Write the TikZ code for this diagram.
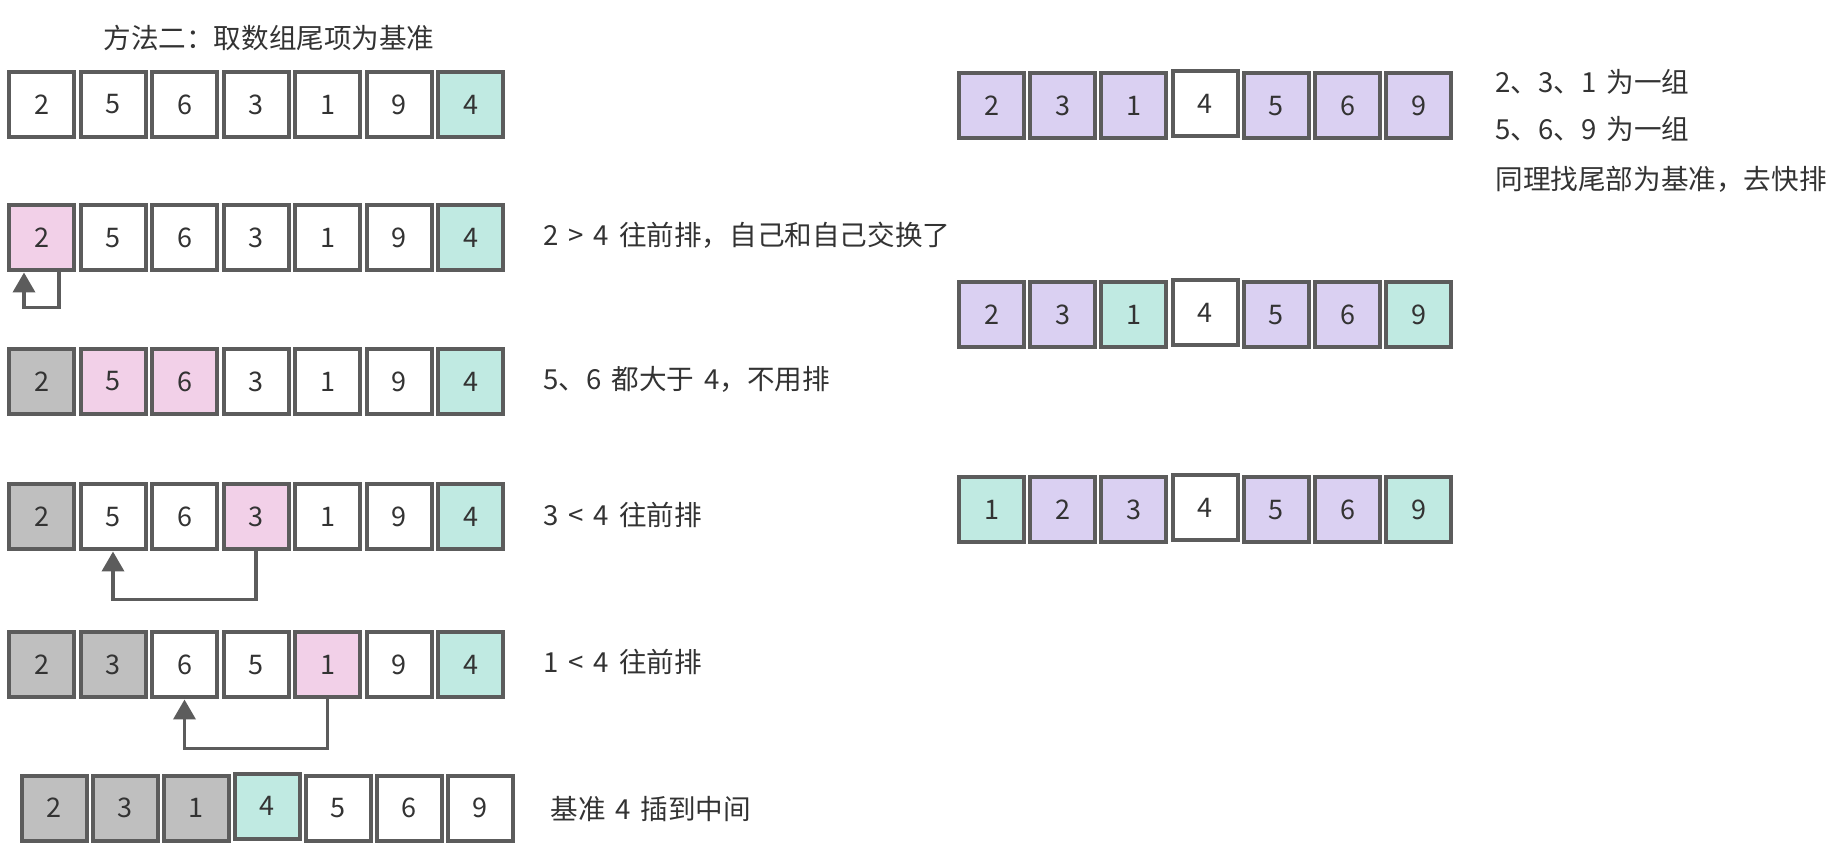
\documentclass[tikz,border=0pt]{standalone}
\usepackage{fontspec}
\setmainfont[WordSpace=1.6]{Noto Sans CJK SC}
\usetikzlibrary{arrows.meta}

\definecolor{boxline}{RGB}{92,92,92}
\definecolor{inktext}{RGB}{51,51,51}
\definecolor{pivotteal}{RGB}{192,234,226}
\definecolor{scanpink}{RGB}{242,208,232}
\definecolor{donegray}{RGB}{191,191,191}
\definecolor{grouplilac}{RGB}{218,208,242}

\tikzset{
  cell/.style={draw=boxline, line width=2pt, minimum size=32.5pt, inner sep=0pt,
    text=inktext, font=\fontsize{13.5}{16}\selectfont},
  blankcell/.style={cell, fill=white},
  pivotcell/.style={cell, fill=pivotteal},
  scancell/.style={cell, fill=scanpink},
  donecell/.style={cell, fill=donegray},
  groupcell/.style={cell, fill=grouplilac},
  raisedblank/.style={blankcell, yshift=1pt},
  raisedpivot/.style={pivotcell, yshift=1pt},
  note/.style={anchor=west, inner sep=0pt, text=inktext, font=\fontsize{13.8}{17}\selectfont},
  swaparrow/.style={draw=boxline, line width=1.9pt, -{Triangle[width=11pt,length=10pt]}}
}

\begin{document}
\begin{tikzpicture}[x=0.5pt, y=-0.5pt]
  \useasboundingbox (0,0) rectangle (1844,844);

  % Title
  \node[note] (title) at (103,38) {方法二：取数组尾项为基准};

  % Start: last item is the pivot
  \foreach \v/\s [count=\i] in {2/blankcell,5/blankcell,6/blankcell,3/blankcell,1/blankcell,9/blankcell,4/pivotcell}
    \node[\s] (r1c\i) at ({41.5+71.5*(\i-1)},104.5) {\v};

  % Step 1
  \foreach \v/\s [count=\i] in {2/scancell,5/blankcell,6/blankcell,3/blankcell,1/blankcell,9/blankcell,4/pivotcell}
    \node[\s] (r2c\i) at ({41.5+71.5*(\i-1)},238) {\v};
  \node[note] (note2) at (543,235) {2 > 4 往前排，自己和自己交换了};
  \draw[swaparrow] ([xshift=8.75pt]r2c1.south) -- ++(0,35)
    -| ([xshift=-8.75pt]r2c1.south);

  % Step 2
  \foreach \v/\s [count=\i] in {2/donecell,5/scancell,6/scancell,3/blankcell,1/blankcell,9/blankcell,4/pivotcell}
    \node[\s] (r3c\i) at ({41.5+71.5*(\i-1)},381.5) {\v};
  \node[note] (note3) at (543,379) {5、6 都大于 4，不用排};

  % Step 3
  \foreach \v/\s [count=\i] in {2/donecell,5/blankcell,6/blankcell,3/scancell,1/blankcell,9/blankcell,4/pivotcell}
    \node[\s] (r4c\i) at ({41.5+71.5*(\i-1)},517) {\v};
  \node[note] (note4) at (543,515) {3 < 4 往前排};
  \draw[swaparrow] (r4c4.south) -- ++(0,48) -| (r4c2.south);

  % Step 4
  \foreach \v/\s [count=\i] in {2/donecell,3/donecell,6/blankcell,5/blankcell,1/scancell,9/blankcell,4/pivotcell}
    \node[\s] (r5c\i) at ({41.5+71.5*(\i-1)},665) {\v};
  \node[note] (note5) at (543,662) {1 < 4 往前排};
  \draw[swaparrow] (r5c5.south) -- ++(0,49) -| (r5c3.south);

  % Pivot moved to the middle
  \foreach \v/\s [count=\i] in {2/donecell,3/donecell,1/donecell,4/raisedpivot,5/blankcell,6/blankcell,9/blankcell}
    \node[\s] (r6c\i) at ({54+71*(\i-1)},808) {\v};
  \node[note] (note6) at (550,809) {基准 4 插到中间};

  % Right side: two groups
  \foreach \v/\s [count=\i] in {2/groupcell,3/groupcell,1/groupcell,4/raisedblank,5/groupcell,6/groupcell,9/groupcell}
    \node[\s] (ga\i) at ({991.5+71.2*(\i-1)},106) {\v};
  \node[note] (notea) at (1495,82) {2、3、1 为一组};
  \node[note] (noteb) at (1495,129) {5、6、9 为一组};
  \node[note] (notec) at (1495,179) {同理找尾部为基准，去快排};

  % New pivots at each group's tail
  \foreach \v/\s [count=\i] in {2/groupcell,3/groupcell,1/pivotcell,4/raisedblank,5/groupcell,6/groupcell,9/pivotcell}
    \node[\s] (gb\i) at ({991.5+71.2*(\i-1)},315) {\v};

  % After sorting the left group
  \foreach \v/\s [count=\i] in {1/pivotcell,2/groupcell,3/groupcell,4/raisedblank,5/groupcell,6/groupcell,9/pivotcell}
    \node[\s] (gc\i) at ({991.5+71.2*(\i-1)},510) {\v};
\end{tikzpicture}
\end{document}
